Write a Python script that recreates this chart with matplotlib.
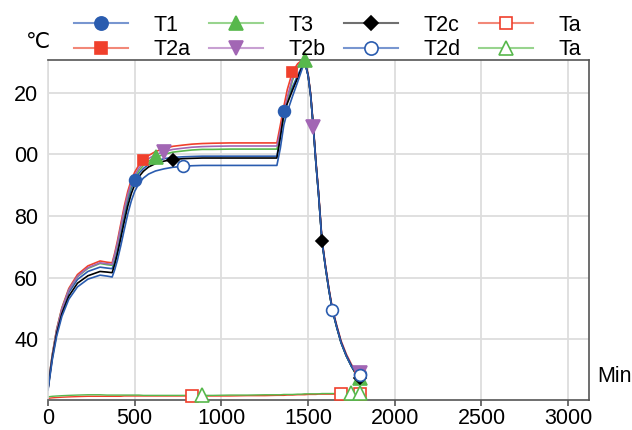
import matplotlib
matplotlib.use("Agg")
import matplotlib.pyplot as plt
from matplotlib.lines import Line2D

plt.rcParams['font.family'] = ['Liberation Sans', 'DejaVu Sans', 'Noto Sans CJK JP']

# time grid (Min)
t = [0, 10, 25, 50, 80, 120, 170, 230, 300, 340, 370,
     385, 400, 420, 440, 460, 480, 500, 525, 550, 580, 620, 670, 720, 780, 830,
     890, 950, 1050, 1150, 1250, 1320,
     1340, 1360, 1380, 1410, 1440, 1460, 1480,
     1500, 1515, 1530, 1545, 1560, 1580, 1600, 1620, 1640, 1665, 1690, 1720,
     1750, 1775, 1800]

t1 = [24.0, 28.5, 34.5, 42.5, 49.2, 55.2, 59.4, 62.0, 63.4, 63.1, 62.9,
      65.2, 68.8, 74.4, 80.0, 85.0, 88.9, 91.6, 93.9, 95.4, 96.7, 97.8, 98.6, 99.0, 99.2, 99.3,
      99.4, 99.4, 99.4, 99.4, 99.4, 99.4,
      106.0, 114.0, 117.5, 121.8, 125.6, 128.0, 130.3,
      125.7, 119.1, 108.9, 97.4, 87.4, 72.0, 63.6, 56.1, 49.6, 44.1, 39.1, 34.8,
      31.4, 29.3, 28.6]
t2a = [24.0, 28.9, 35.1, 43.3, 50.2, 56.5, 61.0, 63.8, 65.4, 65.0, 64.8,
       68.0, 71.8, 77.5, 83.2, 88.0, 91.6, 94.2, 96.6, 98.2, 99.6, 100.9, 101.9, 102.6, 103.0, 103.3,
       103.5, 103.6, 103.7, 103.7, 103.7, 103.7,
       109.5, 115.5, 121.0, 126.8, 129.4, 130.3, 130.6,
       126.0, 119.5, 109.5, 98.0, 88.0, 72.5, 64.0, 56.5, 50.0, 44.5, 39.5, 35.2,
       31.8, 29.8, 29.2]
t3 = [24.2, 28.8, 34.9, 43.0, 49.9, 56.0, 60.3, 63.0, 64.6, 64.2, 64.0,
      67.1, 70.7, 76.2, 81.7, 86.4, 89.9, 92.4, 94.8, 96.4, 97.8, 99.0, 100.0, 100.7, 101.1, 101.4,
      101.6, 101.6, 101.7, 101.7, 101.7, 101.7,
      106.5, 112.0, 117.5, 124.0, 128.2, 129.8, 130.6,
      125.6, 119.0, 108.8, 97.2, 87.2, 71.8, 63.4, 55.9, 49.4, 43.9, 38.9, 34.6,
      31.2, 28.8, 27.4]
t2b = [24.0, 28.7, 34.8, 42.9, 49.8, 56.0, 60.4, 63.2, 64.8, 64.5, 64.3,
       67.4, 71.0, 76.6, 82.2, 87.0, 90.6, 93.2, 95.6, 97.2, 98.6, 99.9, 100.9, 101.6, 102.0, 102.3,
       102.5, 102.6, 102.7, 102.7, 102.7, 102.7,
       107.5, 113.0, 118.5, 124.8, 128.5, 129.9, 130.5,
       125.8, 119.2, 109.0, 97.5, 87.6, 72.2, 63.8, 56.3, 49.8, 44.3, 39.3, 35.0,
       31.6, 29.6, 29.0]
t2c = [23.8, 28.0, 34.0, 41.8, 48.3, 54.0, 58.2, 60.6, 62.0, 61.8, 61.6,
       64.3, 67.6, 72.8, 78.2, 83.2, 87.2, 90.2, 92.8, 94.5, 95.9, 97.0, 97.8, 98.3, 98.6, 98.7,
       98.8, 98.8, 98.8, 98.8, 98.8, 98.8,
       105.5, 113.2, 116.5, 120.8, 124.8, 127.5, 130.2,
       125.6, 119.0, 108.8, 97.3, 87.3, 71.9, 63.5, 56.0, 49.5, 44.0, 39.0, 34.7,
       31.3, 28.8, 27.3]
t2d = [23.5, 27.5, 33.4, 41.0, 47.4, 53.0, 57.0, 59.5, 60.8, 60.5, 60.2,
       62.6, 65.6, 70.4, 75.6, 80.6, 84.8, 88.0, 90.6, 92.3, 93.6, 94.6, 95.3, 95.8, 96.1, 96.3,
       96.4, 96.4, 96.4, 96.4, 96.4, 96.4,
       102.0, 109.5, 113.8, 118.8, 123.5, 126.8, 130.0,
       125.5, 118.9, 108.7, 97.2, 87.2, 71.8, 63.4, 55.9, 49.4, 43.9, 38.9, 34.6,
       31.2, 29.2, 28.4]
ta_r = [20.8, 20.9, 21.0, 21.1, 21.2, 21.3, 21.4, 21.5, 21.5, 21.5, 21.5,
        21.5, 21.5, 21.5, 21.6, 21.6, 21.6, 21.6, 21.6, 21.6, 21.6, 21.6, 21.6, 21.6, 21.6, 21.6,
        21.6, 21.6, 21.6, 21.7, 21.7, 21.8,
        21.8, 21.8, 21.9, 21.9, 22.0, 22.0, 22.0,
        22.1, 22.1, 22.1, 22.1, 22.2, 22.2, 22.2, 22.2, 22.2, 22.2, 22.2, 22.2,
        22.2, 22.2, 22.2]
ta_g = [21.3, 21.4, 21.5, 21.6, 21.7, 21.8, 21.9, 22.0, 22.0, 21.9, 21.9,
        21.9, 21.9, 21.9, 21.9, 21.9, 21.9, 21.9, 21.9, 21.8, 21.8, 21.8, 21.8, 21.8, 21.8, 21.8,
        21.8, 21.8, 21.9, 21.9, 22.0, 22.0,
        22.0, 22.1, 22.1, 22.1, 22.2, 22.2, 22.3,
        22.3, 22.3, 22.3, 22.3, 22.3, 22.4, 22.4, 22.4, 22.4, 22.4, 22.5, 22.5,
        22.5, 22.5, 22.5]

labels = ['T1', 'T2a', 'T3', 'T2b', 'T2c', 'T2d', 'Ta', 'Ta']
values = [t1, t2a, t3, t2b, t2c, t2d, ta_r, ta_g]
# indices into t where the markers sit
marks = [[17, 33, 53], [19, 35, 53], [21, 38, 53], [22, 41, 53],
         [23, 44, 53], [24, 47, 53], [25, 49, 53], [26, 51, 53]]

yticks = [40, 60, 80, 100, 120]
yticklabels = ['40', '60', '80', '00', '20']
xticks = [0, 500, 1000, 1500, 2000, 2500, 3000]

# line colour, marker, face colour, edge colour, marker size, legend line colour
styles = [
    ('#2a5caf', 'o', '#2a5caf', '#2a5caf', 8.5, '#7896d0'),
    ('#f0402c', 's', '#f0402c', '#f0402c', 7.5, '#f28878'),
    ('#57b84c', '^', '#57b84c', '#57b84c', 9.5, '#98d48e'),
    ('#a266b4', 'v', '#a266b4', '#a266b4', 9.5, '#c8a0d2'),
    ('#000000', 'D', '#000000', '#000000', 6.5, '#707070'),
    ('#2a5caf', 'o', 'white', '#2a5caf', 8.5, '#7896d0'),
    ('#f0402c', 's', 'white', '#f0402c', 8.0, '#f28878'),
    ('#57b84c', '^', 'white', '#57b84c', 9.5, '#98d48e'),
]

fig = plt.figure(figsize=(6.32, 4.30), dpi=100)
ax = fig.add_axes([48 / 632, 30 / 430, 541 / 632, 340 / 430])

for i in range(len(values)):
    lw = 1.2 if i < 6 else 1.0
    ax.plot(t, values[i], color=styles[i][0], lw=lw, zorder=2)
for i in range(len(values)):
    col, mk, fc, ec, ms, _ = styles[i]
    ax.plot(t, values[i], ls='none', marker=mk, markevery=marks[i], ms=ms,
            mfc=fc, mec=ec, mew=1.2, zorder=3, clip_on=False)

ax.set_xlim(0, 3120)
ax.set_ylim(20.3, 130.6)
ax.set_xticks(xticks)
ax.set_xticklabels([str(x) for x in xticks])
ax.set_yticks(yticks)
ax.set_yticklabels(yticklabels)
ax.grid(color='#dddddd', lw=1.3, zorder=0)
ax.set_axisbelow(True)
ax.tick_params(axis='y', length=0, pad=7, labelsize=15.5)
ax.tick_params(axis='x', length=4, width=1.2, color='#555555', pad=2, labelsize=15.5)
ax.spines['left'].set_color('#dddddd')
for s in ['top', 'bottom', 'right']:
    ax.spines[s].set_color('#555555')
for s in ax.spines.values():
    s.set_linewidth(1.2)

handles = []
for col, mk, fc, ec, ms, lcol in styles:
    handles.append(Line2D([], [], color=lcol, lw=1.5, marker=mk, ms=ms + 1,
                          mfc=fc, mec=ec, mew=1.2))
fig.legend(handles, labels, ncol=4, loc='upper left',
           bbox_to_anchor=(74 / 632, 1 - 15 / 430), frameon=False,
           fontsize=15.5, handlelength=2.5, handletextpad=1.2,
           columnspacing=0.85, labelspacing=0.15, borderpad=0, borderaxespad=0)

fig.text(38 / 632, 1 - 42 / 430, '℃', fontsize=15.5, ha='center', va='center')
fig.text(597 / 632, 1 - 376 / 430, 'Min', fontsize=15.5, ha='left', va='center')

fig.savefig('out.png', dpi=100)
